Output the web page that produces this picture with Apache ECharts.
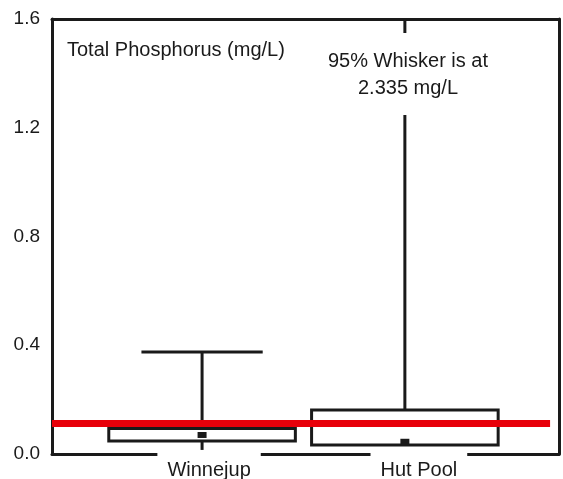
<!DOCTYPE html>
<html>
<head>
<meta charset="utf-8">
<script src="https://cdn.jsdelivr.net/npm/echarts@6/dist/echarts.min.js"></script>
<style>
  html, body { margin: 0; padding: 0; background: #fff; }
  #chart { width: 563px; height: 479px; }
</style>
</head>
<body>
<div id="chart"></div>
<script>
// Box-and-whisker summary of total phosphorus (mg/L) per site
const categories = ['Winnejup', 'Hut Pool'];
const whiskerLow = [0.015, 0.03];
const quartile1 = [0.048, 0.033];
const median = [0.07, 0.045];
const quartile3 = [0.094, 0.162];
const whiskerHigh = [0.375, 2.335];
const guideline = [0.114];

const FONT = '"Liberation Sans", Arial, sans-serif';
const INK = '#1a1a1a';
const X_MIN = 0.26;
const X_MAX = 2.76;

const boxData = categories.map((name, i) => [
  i + 1, whiskerLow[i], quartile1[i], median[i], quartile3[i], whiskerHigh[i]
]);

function renderBox(params, api) {
  const x = api.value(0);
  const pLow = api.coord([x, api.value(1)]);
  const pQ1 = api.coord([x, api.value(2)]);
  const pMed = api.coord([x, api.value(3)]);
  const pQ3 = api.coord([x, api.value(4)]);
  const pHigh = api.coord([x, api.value(5)]);
  const boxW = api.size([0.92, 0])[0];
  const capW = boxW * 0.65;
  const medW = 9;
  const cx = pQ1[0];
  const stroke = { stroke: INK, lineWidth: 3 };
  return {
    type: 'group',
    children: [
      { type: 'line', shape: { x1: cx, y1: pQ3[1], x2: cx, y2: pHigh[1] }, style: stroke },
      { type: 'line', shape: { x1: cx - capW / 2, y1: pHigh[1], x2: cx + capW / 2, y2: pHigh[1] }, style: stroke },
      { type: 'line', shape: { x1: cx, y1: pQ1[1], x2: cx, y2: pLow[1] }, style: stroke },
      {
        type: 'rect',
        shape: { x: cx - boxW / 2, y: pQ3[1], width: boxW, height: pQ1[1] - pQ3[1] },
        style: { fill: '#fff', stroke: INK, lineWidth: 3 }
      },
      { type: 'line', shape: { x1: cx - medW / 2, y1: pMed[1], x2: cx + medW / 2, y2: pMed[1] }, style: { stroke: INK, lineWidth: 6 } }
    ]
  };
}

const axisLine = { show: true, onZero: false, lineStyle: { color: INK, width: 3 } };
const textBase = { fontFamily: FONT, fontSize: 20, color: INK, fontWeight: 'normal' };

const chart = echarts.init(document.getElementById('chart'), null, { renderer: 'canvas' });
chart.setOption({
  animation: false,
  backgroundColor: '#fff',
  grid: { left: 52, right: 4, top: 19, bottom: 25, containLabel: false, outerBoundsMode: 'none' },
  title: [
    { text: 'Total Phosphorus (mg/L)', left: 67, top: 40, padding: 0, textStyle: textBase },
    {
      text: '95% Whisker is at\n' + whiskerHigh[1] + ' mg/L',
      left: 402, top: 33, textAlign: 'center',
      padding: [15, 6, 13, 6], backgroundColor: '#fff',
      textStyle: Object.assign({ lineHeight: 27 }, textBase)
    }
  ],
  xAxis: [
    {
      type: 'value', min: X_MIN, max: X_MAX, position: 'bottom',
      axisLine, axisTick: { show: false }, splitLine: { show: false },
      axisLabel: {
        customValues: [1, 2],
        margin: -3,
        formatter: (v) => {
          const i = Math.round(v) - 1;
          return '{s' + i + '| }{t|' + categories[i] + '}';
        },
        rich: {
          s0: { width: 14 },
          s1: { width: 28 },
          t: Object.assign({ backgroundColor: '#fff', padding: [9, 10, 4, 10] }, textBase)
        }
      }
    },
    {
      type: 'value', min: X_MIN, max: X_MAX, position: 'top',
      axisLine, axisTick: { show: false }, axisLabel: { show: false }, splitLine: { show: false }
    }
  ],
  yAxis: [
    {
      type: 'value', min: 0, max: 1.6, interval: 0.4, position: 'left',
      axisLine, axisTick: { show: false }, splitLine: { show: false },
      axisLabel: Object.assign({}, textBase, { fontSize: 19, margin: 12, formatter: (v) => v.toFixed(1) })
    },
    {
      type: 'value', min: 0, max: 1.6, interval: 0.4, position: 'right',
      axisLine, axisTick: { show: false }, axisLabel: { show: false }, splitLine: { show: false }
    }
  ],
  series: [
    {
      type: 'custom',
      name: 'Total Phosphorus',
      clip: true,
      xAxisIndex: 0,
      yAxisIndex: 0,
      data: boxData,
      renderItem: renderBox,
      markLine: {
        silent: true,
        symbol: 'none',
        label: { show: false },
        lineStyle: { color: '#e8000a', width: 7, type: 'solid' },
        data: [[{ coord: [X_MIN, guideline[0]] }, { coord: [2.716, guideline[0]] }]]
      }
    }
  ]
});
</script>
</body>
</html>
